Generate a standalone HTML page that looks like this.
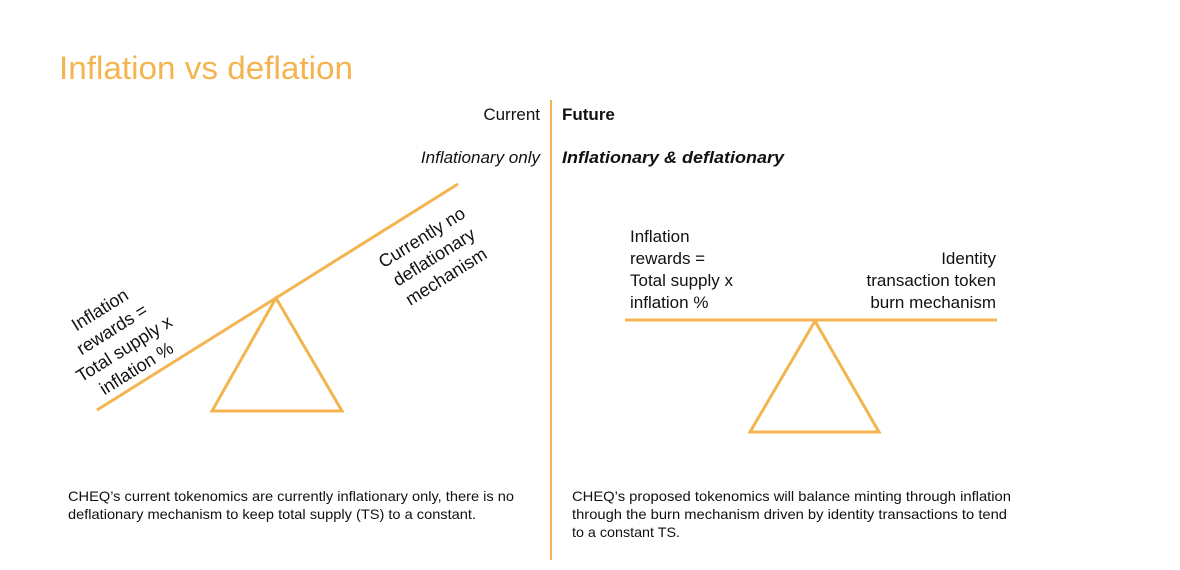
<!DOCTYPE html>
<html><head><meta charset="utf-8"><style>
html,body{margin:0;padding:0;background:#fff;}
svg{display:block;font-family:"Liberation Sans",sans-serif;}
</style></head><body>
<svg width="1180" height="570" viewBox="0 0 1180 570" xmlns="http://www.w3.org/2000/svg">
<text x="59" y="79" font-size="32" fill="#F4B450" textLength="294" lengthAdjust="spacingAndGlyphs">Inflation vs deflation</text>
<line x1="551" y1="100" x2="551" y2="560" stroke="#F4B450" stroke-width="2"/>
<text x="540" y="120" font-size="17" text-anchor="end" fill="#111">Current</text>
<text x="562" y="120" font-size="17" font-weight="bold" fill="#111">Future</text>
<text x="540" y="163" font-size="17" font-style="italic" text-anchor="end" fill="#111">Inflationary only</text>
<text x="562" y="163" font-size="17" font-weight="bold" font-style="italic" fill="#111" textLength="222" lengthAdjust="spacingAndGlyphs">Inflationary &amp; deflationary</text>
<g stroke="#F4B450" stroke-width="3" fill="none">
<line x1="97" y1="410" x2="458" y2="184"/>
<polygon points="276,298 212,411 342,411"/>
<line x1="625" y1="320" x2="997" y2="320"/>
<polygon points="815,321 750,432 879,432"/>
</g>
<g font-size="18" fill="#111" text-anchor="middle" transform="translate(120,342) rotate(-32)">
<text x="0" y="-32">Inflation</text>
<text x="0" y="-9">rewards =</text>
<text x="0" y="14">Total supply x</text>
<text x="0" y="37">inflation %</text>
</g>
<g font-size="18" fill="#111" text-anchor="middle" transform="translate(434,257) rotate(-32)">
<text x="0" y="-17">Currently no</text>
<text x="0" y="6">deflationary</text>
<text x="0" y="29">mechanism</text>
</g>
<g font-size="17" fill="#111">
<text x="630" y="242">Inflation</text>
<text x="630" y="264">rewards =</text>
<text x="630" y="286">Total supply x</text>
<text x="630" y="308">inflation %</text>
<text x="996" y="264" text-anchor="end">Identity</text>
<text x="996" y="286" text-anchor="end">transaction token</text>
<text x="996" y="308" text-anchor="end">burn mechanism</text>
</g>
<g font-size="14" fill="#111">
<text x="68" y="501" textLength="446" lengthAdjust="spacingAndGlyphs">CHEQ’s current tokenomics are currently inflationary only, there is no</text>
<text x="68" y="519" textLength="408" lengthAdjust="spacingAndGlyphs">deflationary mechanism to keep total supply (TS) to a constant.</text>
<text x="572" y="501" textLength="439" lengthAdjust="spacingAndGlyphs">CHEQ’s proposed tokenomics will balance minting through inflation</text>
<text x="572" y="519" textLength="435" lengthAdjust="spacingAndGlyphs">through the burn mechanism driven by identity transactions to tend</text>
<text x="572" y="537" textLength="108" lengthAdjust="spacingAndGlyphs">to a constant TS.</text>
</g>
</svg>
</body></html>
